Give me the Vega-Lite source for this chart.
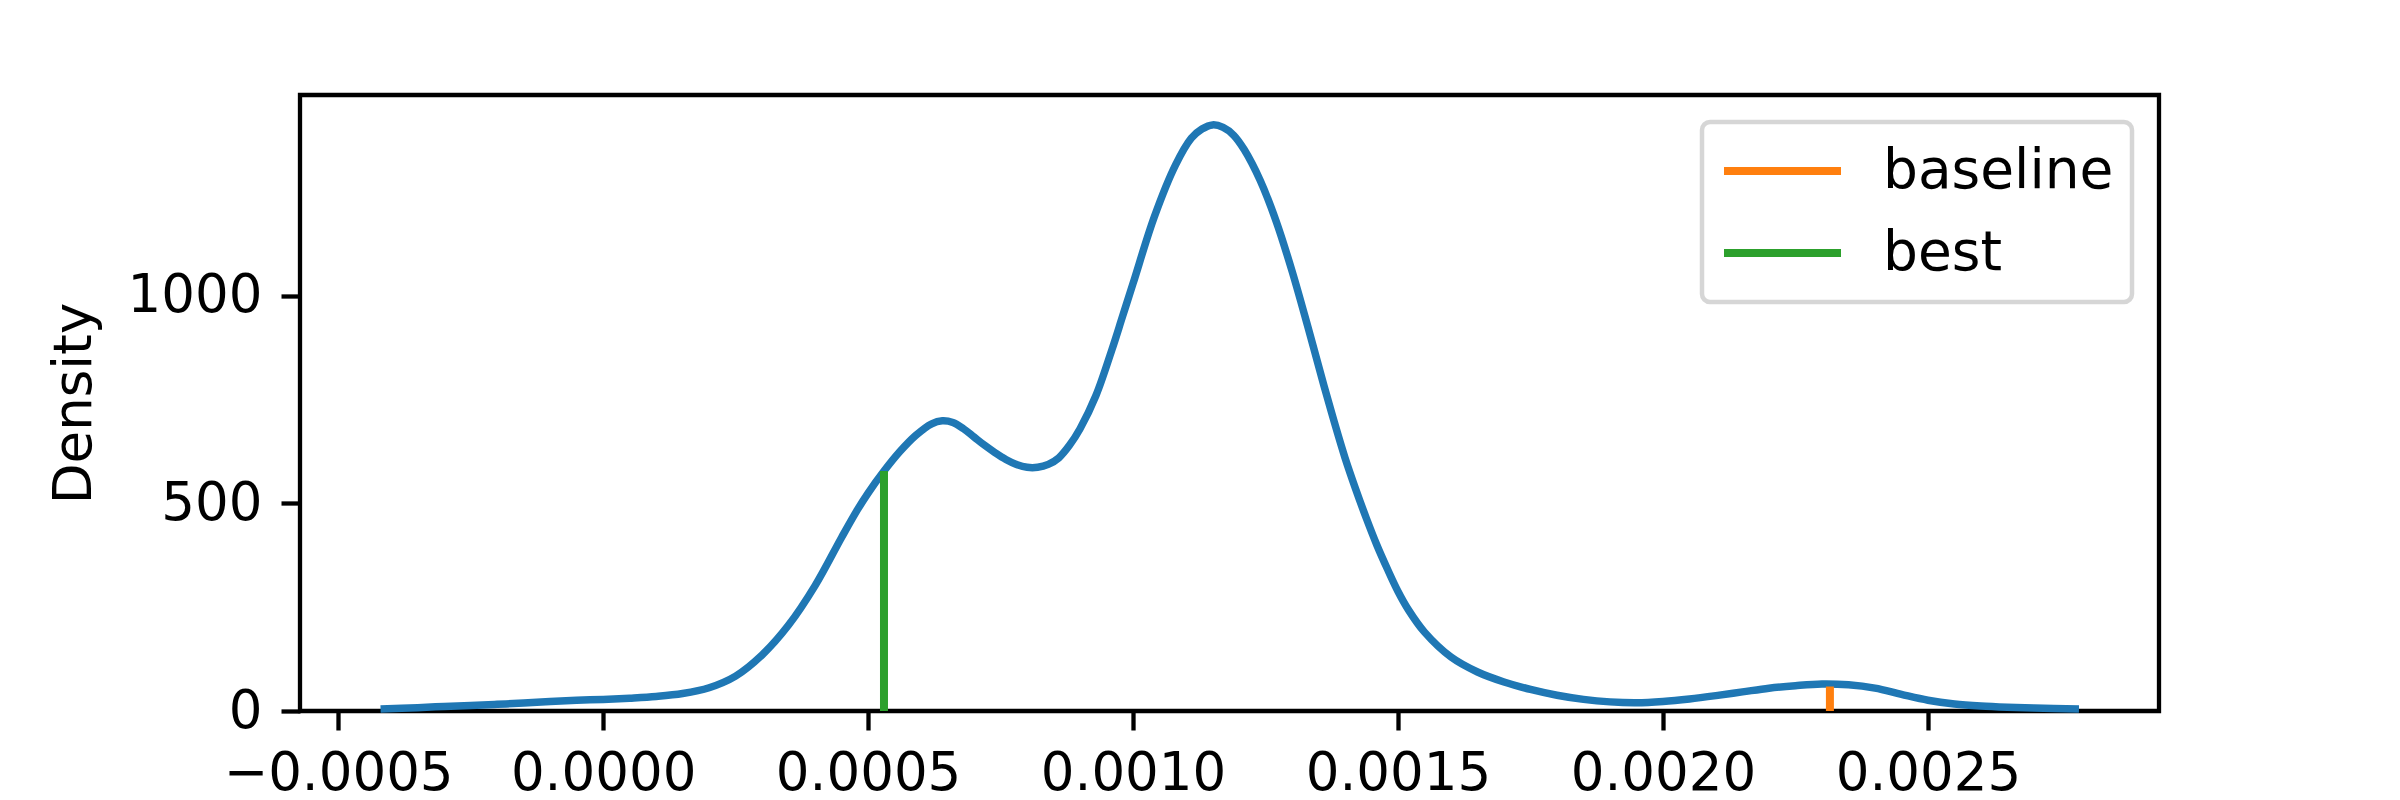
{
  "$schema": "https://vega.github.io/schema/vega-lite/v6.json",
  "width": 1859,
  "height": 616,
  "autosize": {"type": "none"},
  "padding": {"left": 300, "top": 95, "right": 241, "bottom": 89},
  "background": "white",
  "datasets": {
    "kde": [
      {"x": -0.00042, "density": 5},
      {"x": -0.00035, "density": 8},
      {"x": -0.0003, "density": 11},
      {"x": -0.00025, "density": 13},
      {"x": -0.0002, "density": 16},
      {"x": -0.00015, "density": 19},
      {"x": -0.0001, "density": 23},
      {"x": -0.00005, "density": 26},
      {"x": 0.0, "density": 28},
      {"x": 0.00005, "density": 31},
      {"x": 0.0001, "density": 35},
      {"x": 0.00015, "density": 42},
      {"x": 0.0002, "density": 56},
      {"x": 0.00025, "density": 84},
      {"x": 0.0003, "density": 135},
      {"x": 0.00035, "density": 207},
      {"x": 0.0004, "density": 302},
      {"x": 0.00045, "density": 418},
      {"x": 0.00048, "density": 485},
      {"x": 0.0005, "density": 525},
      {"x": 0.00053, "density": 578},
      {"x": 0.00056, "density": 625},
      {"x": 0.00059, "density": 664},
      {"x": 0.00062, "density": 692},
      {"x": 0.00064, "density": 699},
      {"x": 0.00066, "density": 695},
      {"x": 0.00068, "density": 680},
      {"x": 0.0007, "density": 660},
      {"x": 0.00072, "density": 640},
      {"x": 0.00074, "density": 622},
      {"x": 0.00076, "density": 606},
      {"x": 0.00078, "density": 594},
      {"x": 0.0008, "density": 587},
      {"x": 0.00082, "density": 587},
      {"x": 0.00084, "density": 594},
      {"x": 0.00086, "density": 610},
      {"x": 0.00088, "density": 640},
      {"x": 0.0009, "density": 680},
      {"x": 0.00093, "density": 760},
      {"x": 0.00096, "density": 870},
      {"x": 0.00098, "density": 950},
      {"x": 0.001, "density": 1030},
      {"x": 0.00104, "density": 1190},
      {"x": 0.00108, "density": 1315},
      {"x": 0.00111, "density": 1380},
      {"x": 0.00113, "density": 1402},
      {"x": 0.00115, "density": 1412},
      {"x": 0.00117, "density": 1406},
      {"x": 0.00119, "density": 1387},
      {"x": 0.00121, "density": 1352},
      {"x": 0.00124, "density": 1278},
      {"x": 0.00127, "density": 1180},
      {"x": 0.0013, "density": 1060},
      {"x": 0.00133, "density": 925},
      {"x": 0.00136, "density": 785},
      {"x": 0.00138, "density": 695},
      {"x": 0.0014, "density": 610},
      {"x": 0.00142, "density": 535},
      {"x": 0.00144, "density": 465},
      {"x": 0.00146, "density": 400},
      {"x": 0.00148, "density": 342},
      {"x": 0.0015, "density": 288},
      {"x": 0.00152, "density": 243},
      {"x": 0.00155, "density": 190},
      {"x": 0.0016, "density": 130},
      {"x": 0.00165, "density": 94},
      {"x": 0.0017, "density": 70},
      {"x": 0.00175, "density": 52},
      {"x": 0.0018, "density": 38},
      {"x": 0.00185, "density": 28},
      {"x": 0.0019, "density": 22},
      {"x": 0.00195, "density": 20},
      {"x": 0.002, "density": 23},
      {"x": 0.00205, "density": 29},
      {"x": 0.0021, "density": 37},
      {"x": 0.00215, "density": 46},
      {"x": 0.0022, "density": 55},
      {"x": 0.00225, "density": 61},
      {"x": 0.0023, "density": 65},
      {"x": 0.00235, "density": 63},
      {"x": 0.0024, "density": 55},
      {"x": 0.00245, "density": 40},
      {"x": 0.0025, "density": 26},
      {"x": 0.00255, "density": 17},
      {"x": 0.0026, "density": 12},
      {"x": 0.00265, "density": 9},
      {"x": 0.0027, "density": 7},
      {"x": 0.002785, "density": 5}
    ],
    "marks": [
      {"name": "baseline", "x": 0.002315, "top": 59},
      {"name": "best", "x": 0.00053, "top": 578}
    ]
  },
  "layer": [
    {
      "data": {"name": "kde"},
      "mark": {"type": "line", "color": "#1f77b4", "strokeWidth": 7.5, "interpolate": "catmull-rom"},
      "encoding": {
        "x": {
          "field": "x",
          "type": "quantitative",
          "scale": {"domain": [-0.000572, 0.002936], "nice": false, "zero": false},
          "axis": {
            "title": null,
            "values": [-0.0005, 0.0, 0.0005, 0.001, 0.0015, 0.002, 0.0025],
            "format": ".4f",
            "labelPadding": 17
          }
        },
        "y": {
          "field": "density",
          "type": "quantitative",
          "scale": {"domain": [0, 1484], "nice": false, "zero": false},
          "axis": {
            "title": "Density",
            "titlePadding": 26,
            "values": [0, 500, 1000],
            "format": "d"
          }
        }
      }
    },
    {
      "data": {"name": "marks"},
      "mark": {"type": "rule", "strokeWidth": 8},
      "encoding": {
        "x": {"field": "x", "type": "quantitative"},
        "y": {"field": "top", "type": "quantitative"},
        "y2": {"datum": 0},
        "color": {
          "field": "name",
          "type": "nominal",
          "scale": {"domain": ["baseline", "best"], "range": ["#ff7f0e", "#2ca02c"]},
          "legend": {
            "title": null,
            "orient": "top-right",
            "offset": 27,
            "padding": 18,
            "fillColor": "white",
            "strokeColor": "#d6d6d6",
            "cornerRadius": 8,
            "symbolType": "stroke",
            "symbolSize": 13689,
            "symbolStrokeWidth": 8,
            "clipHeight": 62,
            "rowPadding": 20,
            "labelOffset": 38,
            "labelFontSize": 55,
            "labelFont": "DejaVu Sans",
            "labelColor": "black",
            "labelLimit": 600
          }
        }
      }
    }
  ],
  "config": {
    "view": {"stroke": "black", "strokeWidth": 4.3},
    "font": "DejaVu Sans",
    "legend": {"strokeWidth": 4.5},
    "axis": {
      "domain": false,
      "grid": false,
      "ticks": true,
      "tickColor": "black",
      "tickWidth": 4.3,
      "tickSize": 19,
      "labelFont": "DejaVu Sans",
      "labelFontSize": 53,
      "labelColor": "black",
      "labelPadding": 19,
      "labelLimit": 500,
      "labelFlush": false,
      "labelOverlap": false,
      "titleFont": "DejaVu Sans",
      "titleFontSize": 53,
      "titleFontWeight": "normal",
      "titleColor": "black"
    }
  }
}
